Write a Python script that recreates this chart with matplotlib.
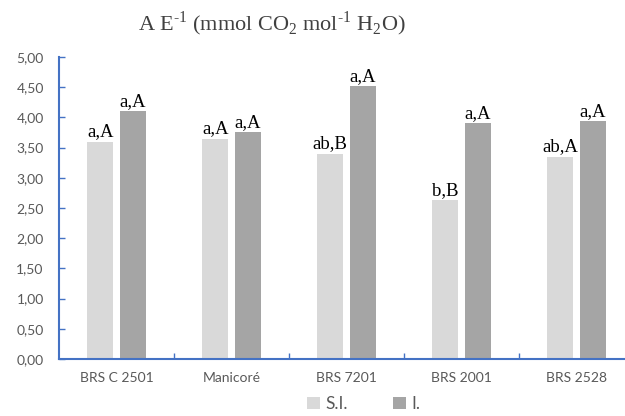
import matplotlib
matplotlib.use("Agg")
import matplotlib.pyplot as plt
import numpy as np

categories = ["BRS C 2501", "Manicoré", "BRS 7201", "BRS 2001", "BRS 2528"]
si_values = [3.60, 3.65, 3.40, 2.63, 3.35]
i_values = [4.10, 3.75, 4.52, 3.90, 3.94]
si_labels = ["a,A", "a,A", "ab,B", "b,B", "ab,A"]
i_labels = ["a,A", "a,A", "a,A", "a,A", "a,A"]
yticks = np.arange(0, 5.01, 0.5)

plt.rcParams["mathtext.fontset"] = "custom"
plt.rcParams["mathtext.rm"] = "Liberation Serif"

blue = "#4472C4"
gray_txt = "#595959"

fig = plt.figure(figsize=(6.25, 4.16), dpi=100)
# plot area runs past the right edge, as in the reference
ax = fig.add_axes([59 / 625, 57 / 416, 575 / 625, 302 / 416])

x = np.arange(len(categories))
w = 0.225
off = 0.141
b1 = ax.bar(x - off, si_values, w, color="#D9D9D9", label="S.I.")
b2 = ax.bar(x + off, i_values, w, color="#A5A5A5", label="I.")

for bars, labels in ((b1, si_labels), (b2, i_labels)):
    for rect, lab in zip(bars, labels):
        ax.text(rect.get_x() + rect.get_width() / 2, rect.get_height() + 0.02, lab,
                ha="center", va="bottom", fontsize=13.5, family="Liberation Serif", color="black")

ax.set_xlim(-0.5, len(categories) - 0.5)
ax.set_ylim(0, 5)
ax.set_yticks(yticks)
ax.set_yticklabels([f"{v:.2f}".replace(".", ",") for v in yticks])
ax.set_xticks(x)
ax.set_xticklabels(categories)
ax.set_xticks(np.arange(0.5, len(categories) - 0.5), minor=True)

for s in ("top", "right"):
    ax.spines[s].set_visible(False)
for s in ("left", "bottom"):
    ax.spines[s].set_color(blue)
    ax.spines[s].set_linewidth(1.5)

ax.tick_params(axis="y", direction="in", length=4, width=1, color=blue, pad=11,
               labelsize=10, labelcolor=gray_txt)
ax.tick_params(axis="x", which="major", length=0, pad=9, labelsize=10, labelcolor=gray_txt)
ax.tick_params(axis="x", which="minor", direction="in", length=4, width=1, color=blue)
for lab in ax.get_xticklabels() + ax.get_yticklabels():
    lab.set_family("Lato")

fig.text(272 / 625, 1 - 24 / 416,
         r"A E$^{\text{-1}}$ (mmol CO$_{\mathregular{2}}$ mol$^{\text{-1}}$ H$_{\mathregular{2}}$O)",
         ha="center", va="center", fontsize=16, family="Liberation Serif", color="#404040")

fig.legend(handles=[b1, b2], labels=["S.I.", "I."], loc="center", bbox_to_anchor=(364 / 625, 1 - 404 / 416),
           ncol=2, frameon=False, prop={"family": "Lato", "size": 12.5}, labelcolor=gray_txt,
           handlelength=0.75, handleheight=0.75, handletextpad=0.3, columnspacing=2.6)

fig.savefig("out.png", dpi=100)
